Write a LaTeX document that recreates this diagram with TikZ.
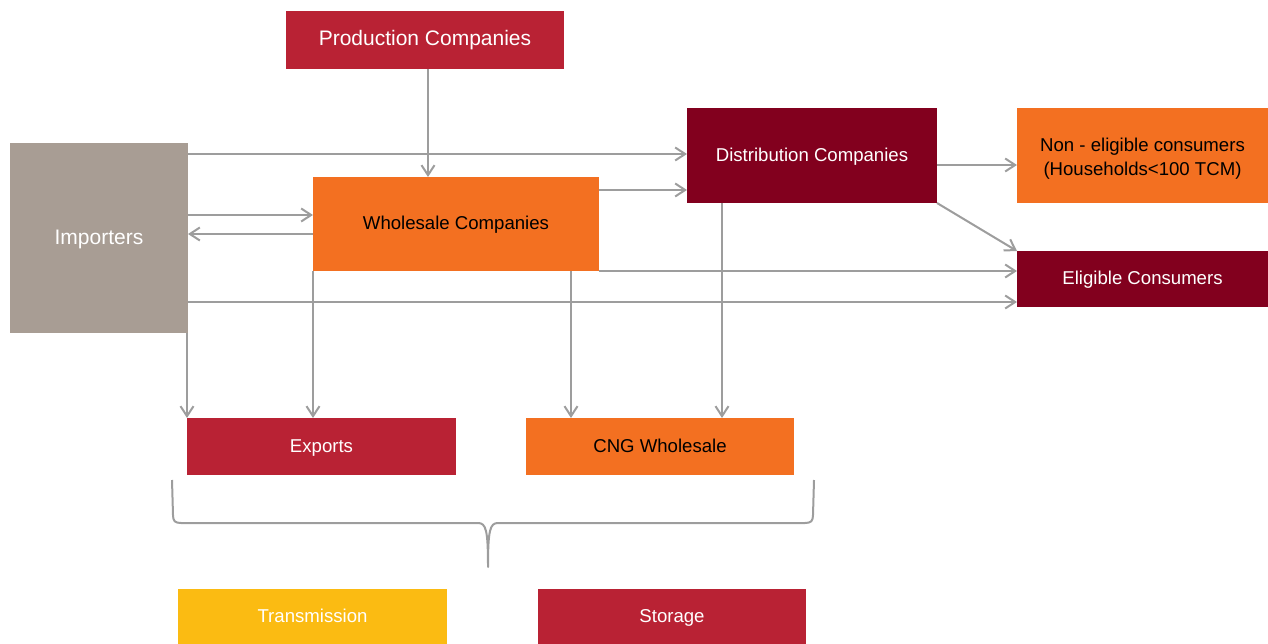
\documentclass[tikz,border=0pt]{standalone}
\usepackage{fontspec}
\setmainfont{Liberation Sans}
\usetikzlibrary{arrows.meta}
\definecolor{cred}{HTML}{B92234}
\definecolor{cdark}{HTML}{82001E}
\definecolor{corange}{HTML}{F37021}
\definecolor{cgray}{HTML}{A89D94}
\definecolor{cyellow}{HTML}{FBBB12}
\definecolor{cline}{HTML}{9D9D9D}
\tikzset{
  box/.style={rectangle, inner sep=0pt, outer sep=0pt, align=center, text height=13pt, text depth=1.5pt, font=\fontsize{18.6}{24}\selectfont},
  bigtext/.style={font=\fontsize{21}{24}\selectfont, text height=15pt, text depth=3pt},
  arr/.style={draw=cline, line width=2pt, -{Straight Barb[length=10pt,width=13pt,line width=2pt]}},
  ln/.style={draw=cline, line width=2pt},
}
\begin{document}
\begin{tikzpicture}[x=1pt,y=-1pt]
\useasboundingbox (0,0) rectangle (1268,644);
% boxes
\node[box, bigtext, fill=cred, text=white, minimum width=278pt, minimum height=58pt] (prod) at (425,40) {Production Companies};
\node[box, bigtext, fill=cgray, text=white, minimum width=178pt, minimum height=190pt] (imp) at (99,238) {Importers};
\node[box, fill=corange, text=black, minimum width=286pt, minimum height=94pt] (whl) at (456,224) {Wholesale Companies};
\node[box, fill=cdark, text=white, minimum width=250pt, minimum height=95pt] (dist) at (812,155.5) {Distribution Companies};
\node[box, text height=41pt, text depth=0.6pt, fill=corange, text=black, minimum width=251pt, minimum height=95pt] (non) at (1142.5,155.5) {Non - eligible consumers\\(Households<100 TCM)};
\node[box, fill=cdark, text=white, minimum width=251pt, minimum height=56pt] (elig) at (1142.5,279) {Eligible Consumers};
\node[box, fill=cred, text=white, minimum width=269pt, minimum height=57pt] (exp) at (321.5,446.5) {Exports};
\node[box, fill=corange, text=black, minimum width=268pt, minimum height=57pt] (cng) at (660,446.5) {CNG Wholesale};
\node[box, fill=cyellow, text=white, minimum width=269pt, minimum height=56pt] (trans) at (312.5,617) {Transmission};
\node[box, fill=cred, text=white, minimum width=268pt, minimum height=56pt] (stor) at (672,617) {Storage};
% connectors
\draw[arr] (prod.south -| 428,0) -- (whl.north -| 428,0);
\draw[arr] (imp.east |- 0,154) -- (dist.west |- 0,154);
\draw[arr] (imp.east |- 0,215) -- (whl.west |- 0,215);
\draw[arr] (whl.west |- 0,234) -- (imp.east |- 0,234);
\draw[arr] (whl.east |- 0,190) -- (dist.west |- 0,190);
\draw[arr] (dist.east |- 0,165) -- (non.west |- 0,165);
\draw[arr] (dist.south east) -- (elig.north west);
\draw[arr] (whl.south east) -- (elig.west |- whl.south east);
\draw[arr] (imp.east |- 0,302) -- (elig.west |- 0,302);
\draw[arr] (exp.north west |- imp.south) -- (exp.north west);
\draw[arr] (whl.south west) -- (exp.north -| whl.south west);
\draw[arr] (whl.south -| 571,0) -- (cng.north -| 571,0);
\draw[arr] (dist.south -| 722,0) -- (cng.north -| 722,0);
% brace
\draw[ln, line join=round]
  (172,480) -- (173,515) .. controls (173,521) and (175,523) .. (181,523)
  -- (478,523) .. controls (486,523) and (488,530) .. (488,567)
  .. controls (488,530) and (490,523) .. (498,523)
  -- (805,523) .. controls (811,523) and (813,521) .. (813,515) -- (814,480);
\end{tikzpicture}
\end{document}
